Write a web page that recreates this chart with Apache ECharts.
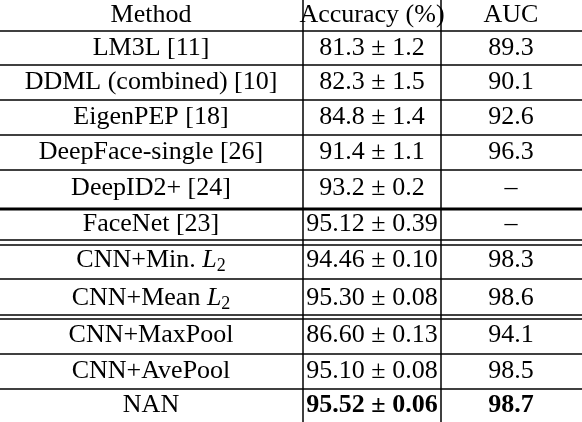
<!DOCTYPE html>
<html><head><meta charset="utf-8">
<script src="https://cdn.jsdelivr.net/npm/echarts@6/dist/echarts.min.js"></script>
<style>html,body{margin:0;background:#fff}#c{width:582px;height:422px}</style>
</head><body><div id="c"></div>
<script>
var headers = ['Method', 'Accuracy (%)', 'AUC'];
var methods = ['LM3L [11]', 'DDML (combined) [10]', 'EigenPEP [18]', 'DeepFace-single [26]', 'DeepID2+ [24]', 'FaceNet [23]',
  'CNN+Min. {i|L}{s|2}', 'CNN+Mean {i|L}{s|2}', 'CNN+MaxPool', 'CNN+AvePool', 'NAN'];
var accuracy = ['81.3 ± 1.2', '82.3 ± 1.5', '84.8 ± 1.4', '91.4 ± 1.1', '93.2 ± 0.2', '95.12 ± 0.39',
  '94.46 ± 0.10', '95.30 ± 0.08', '86.60 ± 0.13', '95.10 ± 0.08', '95.52 ± 0.06'];
var auc = ['89.3', '90.1', '92.6', '96.3', '–', '–', '98.3', '98.6', '94.1', '98.5', '98.7'];

// row layout
var rowEdges = [0, 31, 65, 100, 135, 170, 207, 242, 279, 317, 354, 389, 422];
var rules = [[31,1.5],[65,1.5],[100,1.5],[135,1.5],[170,1.5],[209,3],[240,1.5],[245,1.5],[279,1.5],[315,1.5],[319,1.5],[354,1.5],[389,1.5]];
var colX = [151, 372, 511];
var vlines = [303, 441];

var font = '"Liberation Serif", "DejaVu Serif", serif';
var g = [];
function txt(x, y, s, bold) {
  g.push({ type: 'text', x: x, y: y, style: {
    text: s, fill: '#000', fontFamily: font, fontSize: 26, fontWeight: bold ? 'bold' : 'normal',
    align: 'center', verticalAlign: 'middle',
    rich: {
      i: { fontFamily: font, fontSize: 26, fontStyle: 'italic', fill: '#000' },
      s: { fontFamily: font, fontSize: 18, fill: '#000', padding: [12, 0, 0, 0] }
    }
  } });
}
function cy(r) { return (rowEdges[r] + rowEdges[r + 1]) / 2; }
headers.forEach(function (h, j) { txt(colX[j], cy(0), h); });
methods.forEach(function (m, i) {
  var bold = i === methods.length - 1;
  txt(colX[0], cy(i + 1), m);
  txt(colX[1], cy(i + 1), accuracy[i], bold);
  txt(colX[2], cy(i + 1), auc[i], bold);
});
rules.forEach(function (r) {
  g.push({ type: 'line', shape: { x1: 0, y1: r[0], x2: 582, y2: r[0] }, style: { stroke: '#000', lineWidth: r[1] } });
});
vlines.forEach(function (x) {
  g.push({ type: 'line', shape: { x1: x, y1: 0, x2: x, y2: 422 }, style: { stroke: '#000', lineWidth: 1.5 } });
});

var chart = echarts.init(document.getElementById('c'));
chart.setOption({ animation: false, graphic: g });
</script></body></html>
